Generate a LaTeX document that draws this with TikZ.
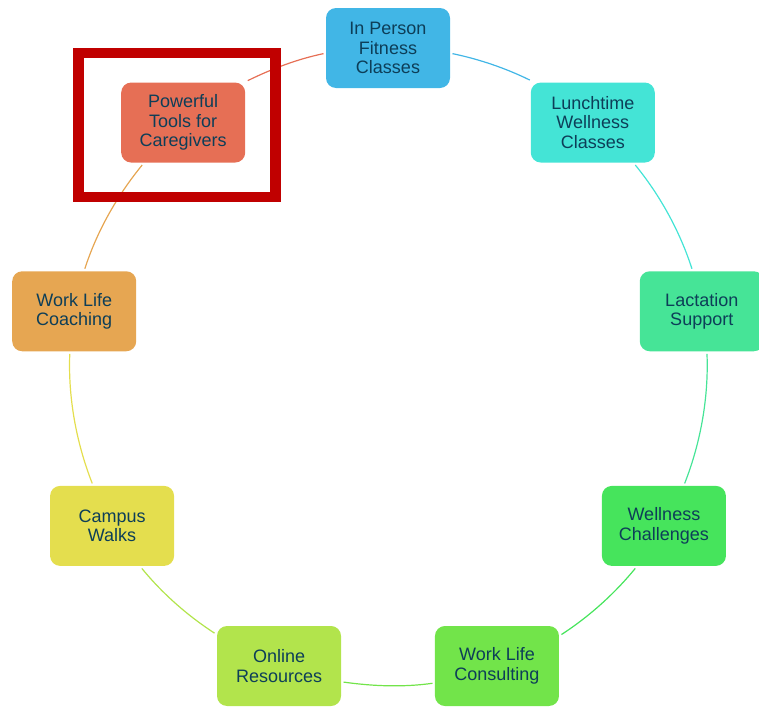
\documentclass[tikz,border=0pt]{standalone}
\usepackage{fontspec}
\setmainfont{Liberation Sans}
\definecolor{ink}{HTML}{0D3E58}
\definecolor{cFitness}{HTML}{41B6E6}
\definecolor{cLunch}{HTML}{44E4D6}
\definecolor{cLactation}{HTML}{46E497}
\definecolor{cChallenge}{HTML}{46E45C}
\definecolor{cConsult}{HTML}{72E44A}
\definecolor{cOnline}{HTML}{B2E44C}
\definecolor{cWalks}{HTML}{E4DE4E}
\definecolor{cCoach}{HTML}{E6A652}
\definecolor{cCare}{HTML}{E66F55}
\definecolor{frameRed}{HTML}{C00000}
\begin{document}
\begin{tikzpicture}[x=0.75pt,y=0.75pt,
  item/.style={rectangle, rounded corners=7.5pt, minimum width=93pt,
    minimum height=60pt, inner sep=2pt, outer sep=1.875pt, fill=#1,
    text=ink, align=center, font=\fontsize{13.5}{14.6}\selectfont},
  link/.style={draw=#1, line width=0.9pt, looseness=0.85},
  highlight/.style={draw=frameRed, line width=7.9pt}]
\useasboundingbox (-388,-341.4) rectangle (371,366.6);

% programme boxes placed around a circle of radius 318.6, 40 degrees apart
\node[item=cFitness]   (fitness)    at (90:318.6)   {In Person\\Fitness\\Classes};
\node[item=cLunch]     (lunchtime)  at (50:318.6)   {Lunchtime\\Wellness\\Classes};
\node[item=cLactation] (lactation)  at (10:318.6)   {Lactation\\Support};
\node[item=cChallenge] (challenges) at (-30:318.6)  {Wellness\\Challenges};
\node[item=cConsult]   (consulting) at (-70:318.6)  {Work Life\\Consulting};
\node[item=cOnline]    (online)     at (-110:318.6) {Online\\Resources};
\node[item=cWalks]     (walks)      at (-150:318.6) {Campus\\Walks};
\node[item=cCoach]     (coaching)   at (170:318.6)  {Work Life\\Coaching};
\node[item=cCare]      (caregivers) at (130:318.6)  {Powerful\\Tools for\\Caregivers};

% ring of arcs: each leaves a box where the circle crosses its edge and
% follows the circle clockwise, in the colour of the box it leaves
\draw[link=cFitness]   (fitness.-5.84)      to[out=-11.68,  in=153.9]   (lunchtime.146.93);
\draw[link=cLunch]     (lunchtime.-45.41)   to[out=-50.74,  in=107.88]  (lactation.103.88);
\draw[link=cLactation] (lactation.-83.82)   to[out=-87.69,  in=68.49]   (challenges.64.25);
\draw[link=cChallenge] (challenges.-124.67) to[out=-129.30, in=32.99]   (consulting.26.53);
\draw[link=cConsult]   (consulting.-165.99) to[out=-171.97, in=-8.03]   (online.-14.01);
\draw[link=cOnline]    (online.153.47)      to[out=147.01,  in=-50.70]  (walks.-55.33);
\draw[link=cWalks]     (walks.115.75)       to[out=111.51,  in=-92.31]  (coaching.-96.18);
\draw[link=cCoach]     (coaching.76.12)     to[out=72.12,   in=-129.26] (caregivers.-134.59);
\draw[link=cCare]      (caregivers.33.07)   to[out=26.1,    in=191.68]  (fitness.185.84);

% emphasis frame around the caregivers programme
\draw[highlight] (-309.7,313.6) rectangle (-112.3,169.6);
\end{tikzpicture}
\end{document}
